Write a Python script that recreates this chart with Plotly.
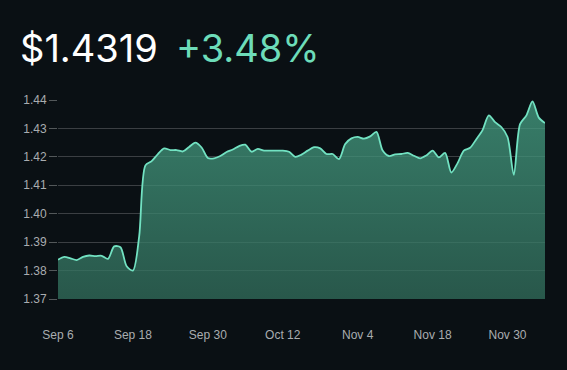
import plotly.graph_objects as go

values = [
    1.3838, 1.3848, 1.3843, 1.3837, 1.3848, 1.3853, 1.3851, 1.3852, 1.3841, 1.3885,
    1.3882, 1.3815, 1.3800, 1.3920, 1.4170, 1.4185, 1.4210, 1.4230, 1.4224, 1.4224,
    1.4219, 1.4235, 1.4250, 1.4233, 1.4196, 1.4195, 1.4203, 1.4217, 1.4226, 1.4238,
    1.4243, 1.4218, 1.4228, 1.4222, 1.4222, 1.4222, 1.4222, 1.4218, 1.4200, 1.4208,
    1.4222, 1.4234, 1.4230, 1.4210, 1.4210, 1.4192, 1.4245, 1.4265, 1.4270, 1.4264,
    1.4272, 1.4288, 1.4222, 1.4203, 1.4209, 1.4210, 1.4214, 1.4204, 1.4195, 1.4205,
    1.4222, 1.4198, 1.4214, 1.4145, 1.4178, 1.4222, 1.4232, 1.4262, 1.4294, 1.4346,
    1.4322, 1.4305, 1.4270, 1.4137, 1.4315, 1.4345, 1.4395, 1.4338, 1.4319,
]
x_index = list(range(len(values)))
tick_positions = [0, 12, 24, 36, 48, 60, 72]
tick_labels = ["Sep 6", "Sep 18", "Sep 30", "Oct 12", "Nov 4", "Nov 18", "Nov 30"]
y_ticks = [1.37, 1.38, 1.39, 1.40, 1.41, 1.42, 1.43, 1.44]
price_text = "$1.4319"
change_text = "+3.48%"

BG = "#0a1014"
PLOT_W = 567 - 58 - 22
PLOT_H = 370 - 100 - 71

fig = go.Figure()
fig.add_trace(go.Scatter(
    x=x_index, y=values, mode="lines",
    line=dict(color="#72e2c2", width=1.8, shape="spline", smoothing=0.8),
    fill="tozeroy",
    fillgradient=dict(
        type="vertical", start=1.37, stop=1.44,
        colorscale=[[0, "rgba(50,110,92,0.76)"], [1, "rgba(70,160,132,0.76)"]],
    ),
    hoverinfo="skip",
))

fig.update_layout(
    width=567, height=370,
    paper_bgcolor=BG, plot_bgcolor=BG,
    margin=dict(l=58, r=22, t=100, b=71),
    showlegend=False,
    font=dict(family="Liberation Sans, Arial, sans-serif", size=12, color="#a9adb0"),
    xaxis=dict(
        range=[0, 78], tickmode="array", tickvals=tick_positions, ticktext=tick_labels,
        showgrid=False, zeroline=False, showline=False,
        ticks="outside", ticklen=25, tickcolor=BG,
    ),
    yaxis=dict(
        range=[1.37, 1.44], tickmode="array", tickvals=y_ticks,
        ticktext=[f"{v:.2f}" for v in y_ticks],
        showgrid=True, gridcolor="rgba(255,255,255,0.2)", gridwidth=1,
        zeroline=False, showline=False,
        ticks="outside", ticklen=8, tickcolor="rgba(255,255,255,0.3)",
    ),
    annotations=[
        dict(xref="paper", yref="paper", x=(18 - 58) / PLOT_W, y=1 + 52 / PLOT_H,
             xanchor="left", yanchor="middle", showarrow=False,
             text=price_text, font=dict(family="Inter, sans-serif", size=38, color="#ffffff")),
        dict(xref="paper", yref="paper", x=(174 - 58) / PLOT_W, y=1 + 52 / PLOT_H,
             xanchor="left", yanchor="middle", showarrow=False,
             text=change_text, font=dict(family="Inter, sans-serif", size=38, color="#6ddcb9")),
    ],
)
fig.write_html(
    "out.html",
    config={"displayModeBar": False},
    post_script="document.body.style.margin='0';document.body.style.background='#0a1014';",
)
